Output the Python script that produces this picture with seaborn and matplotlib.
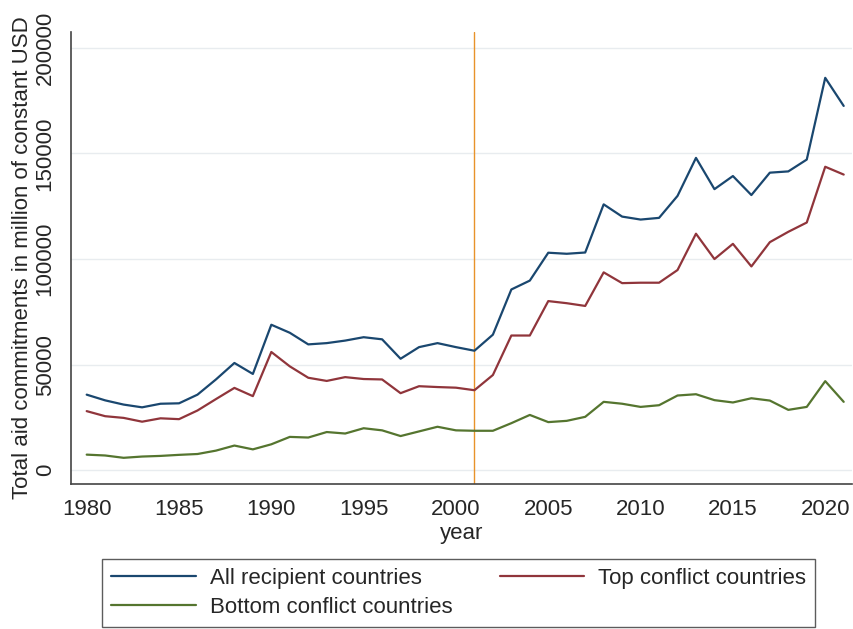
import numpy as np
import pandas as pd
import matplotlib
matplotlib.use('Agg')
import matplotlib.pyplot as plt
import seaborn as sns

# ── Data (million constant USD) ─────────────────────────────────────────────
years = list(range(1980, 2022))

all_recipients = [
    35800, 33100, 31100, 29800, 31500, 31700, 35800, 43000, 50800, 45600,
    68900, 65100, 59600, 60200, 61400, 63000, 62000, 52800, 58300, 60200,
    58300, 56600, 64200, 85600, 89800, 103000, 102500, 103100, 125900, 120100,
    118700, 119500, 129900, 147900, 133100, 139300, 130300, 140900, 141500, 147100,
    185800, 172500,
]
top_conflict = [
    28000, 25600, 24800, 23000, 24600, 24200, 28300, 33700, 39000, 35100,
    56000, 49200, 43800, 42300, 44100, 43200, 43000, 36500, 39800, 39400,
    39100, 37900, 45100, 63800, 63800, 80100, 79100, 77800, 93700, 88600,
    88800, 88800, 94800, 112000, 100000, 107200, 96500, 108000, 112900, 117300,
    143700, 140000,
]
bottom_conflict = [
    7400, 7000, 5900, 6500, 6800, 7300, 7700, 9300, 11700, 9900,
    12300, 15800, 15500, 18100, 17400, 19900, 18900, 16200, 18400, 20600,
    18900, 18700, 18700, 22300, 26200, 22800, 23400, 25300, 32400, 31500,
    30000, 30800, 35400, 36000, 33200, 32100, 34100, 33000, 28600, 30000,
    42200, 32400,
]

series_names = ['All recipient countries', 'Top conflict countries',
                'Bottom conflict countries']
series_colors = ['#1a476f', '#90353b', '#55752f']
cutoff_year = 2001

df = pd.DataFrame({
    'year': years * 3,
    'value': all_recipients + top_conflict + bottom_conflict,
    'series': [series_names[0]] * len(years) + [series_names[1]] * len(years)
              + [series_names[2]] * len(years),
})

# ── Plot ──────────────────────────────────────────────────────────────────────
sns.set_style('white')
plt.rcParams['font.family'] = ['Liberation Sans', 'DejaVu Sans']

fig = plt.figure(figsize=(8.54, 6.29), dpi=100)
ax = fig.add_axes([71 / 854, 1 - 484 / 629, (852 - 71) / 854, (484 - 32) / 629])

sns.lineplot(data=df, x='year', y='value', hue='series',
             palette=dict(zip(series_names, series_colors)),
             linewidth=1.6, ax=ax, legend=False)

ax.axvline(cutoff_year, color='#e8932a', lw=1.0, zorder=1)

ax.set_xlim(1979.15, 2021.45)
ax.set_ylim(-6500, 207500)
ax.set_xticks(range(1980, 2021, 5))
ax.set_yticks([0, 50000, 100000, 150000, 200000])
ax.set_yticklabels(['0', '50000', '100000', '150000', '200000'],
                   rotation=90, va='center')
ax.grid(axis='y', color='#e8ecef', lw=1.0)
ax.grid(axis='x', visible=False)
ax.tick_params(axis='both', direction='out', length=8, width=1.0,
               color='#444444', labelsize=16, pad=3)
ax.tick_params(axis='y', pad=3)

for side in ['top', 'right']:
    ax.spines[side].set_visible(False)
for side in ['left', 'bottom']:
    ax.spines[side].set_color('#444444')
    ax.spines[side].set_linewidth(1.2)

ax.set_xlabel('year', fontsize=16, labelpad=2)
ax.set_ylabel('Total aid commitments in million of constant USD',
              fontsize=16, labelpad=1)

# legend: row 1 -> All, Top ; row 2 -> Bottom (matplotlib fills column-first)
handles = [plt.Line2D([], [], color=c, lw=1.6) for c in series_colors]
order = [0, 2, 1]
leg = fig.legend([handles[i] for i in order], [series_names[i] for i in order],
                 ncol=2, loc='upper left', borderaxespad=0,
                 bbox_to_anchor=(102.5 / 854, 1 - 559 / 629),
                 fontsize=16, frameon=True, fancybox=False,
                 handlelength=3.8, handletextpad=0.65, labelspacing=0.35,
                 borderpad=0.4, columnspacing=2.1)
leg.get_frame().set_edgecolor('#333333')
leg.get_frame().set_linewidth(1.0)

fig.savefig('out.png', dpi=100)
